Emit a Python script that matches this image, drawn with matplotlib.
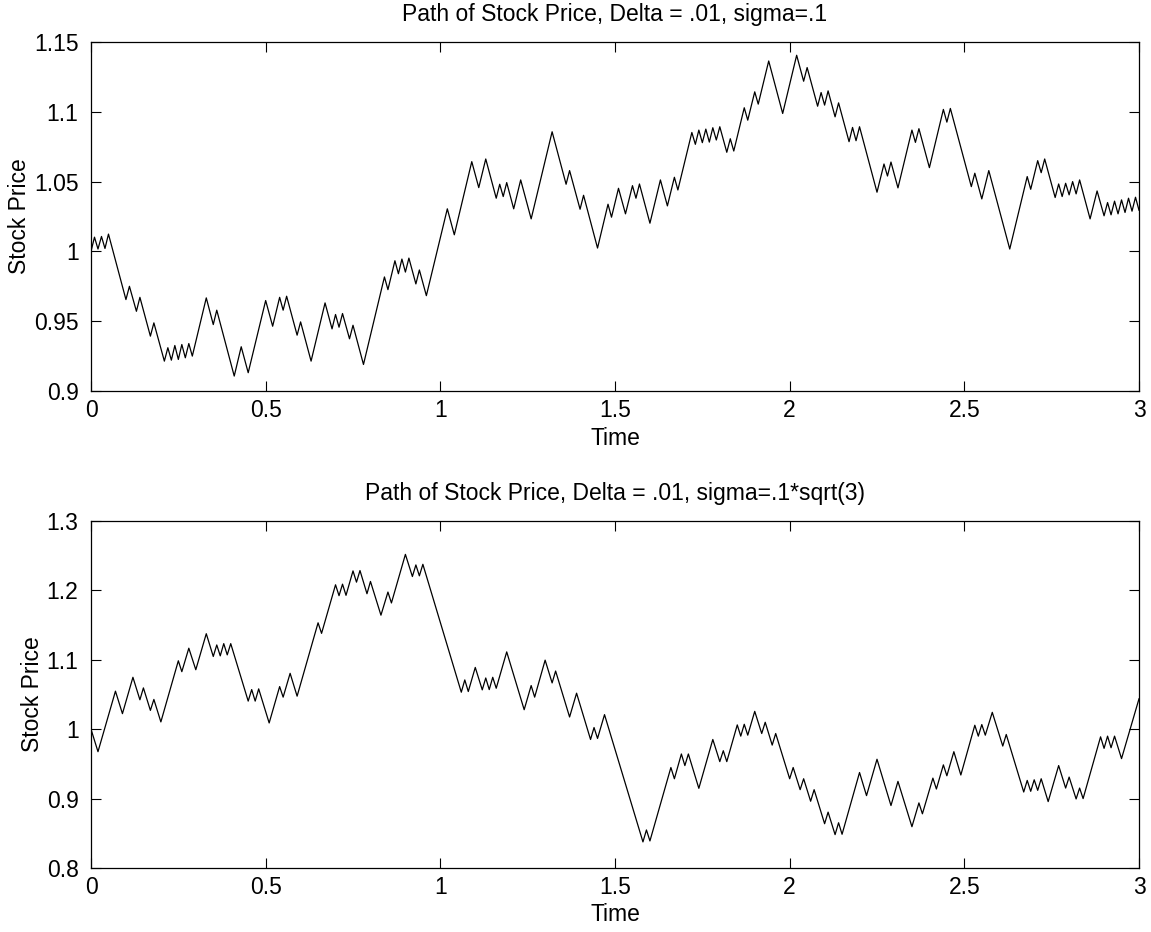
import matplotlib
matplotlib.use("Agg")
import matplotlib.pyplot as plt

plt.rcParams['font.family'] = ['Liberation Sans', 'DejaVu Sans']

# Turning points of the simulated price path, sigma = .1
top_time = [
    0.00, 0.01, 0.02, 0.03, 0.04, 0.05, 0.10, 0.11, 0.13, 0.14,
    0.17, 0.18, 0.21, 0.22, 0.23, 0.24, 0.25, 0.26, 0.27, 0.28,
    0.29, 0.33, 0.35, 0.36, 0.41, 0.43, 0.45, 0.50, 0.52, 0.54,
    0.55, 0.56, 0.59, 0.60, 0.63, 0.67, 0.69, 0.70, 0.71, 0.72,
    0.74, 0.75, 0.78, 0.84, 0.85, 0.87, 0.88, 0.89, 0.90, 0.91,
    0.93, 0.94, 0.96, 1.02, 1.04, 1.09, 1.11, 1.13, 1.16, 1.17,
    1.18, 1.19, 1.21, 1.23, 1.26, 1.32, 1.36, 1.37, 1.40, 1.41,
    1.45, 1.48, 1.49, 1.51, 1.53, 1.55, 1.56, 1.57, 1.60, 1.63,
    1.65, 1.67, 1.68, 1.72, 1.73, 1.74, 1.75, 1.76, 1.77, 1.78,
    1.79, 1.80, 1.82, 1.83, 1.84, 1.87, 1.88, 1.90, 1.91, 1.94,
    1.98, 2.02, 2.04, 2.05, 2.08, 2.09, 2.10, 2.11, 2.13, 2.14,
    2.17, 2.18, 2.19, 2.20, 2.25, 2.27, 2.28, 2.29, 2.31, 2.35,
    2.36, 2.37, 2.40, 2.44, 2.45, 2.46, 2.52, 2.53, 2.55, 2.57,
    2.63, 2.68, 2.69, 2.71, 2.72, 2.73, 2.76, 2.77, 2.78, 2.79,
    2.80, 2.81, 2.82, 2.83, 2.86, 2.88, 2.90, 2.91, 2.92, 2.93,
    2.94, 2.95, 2.96, 2.97, 2.98, 2.99, 3.00,
]
top_price = [
    1.0000, 1.0102, 1.0017, 1.0107, 1.0021, 1.0124, 0.9655, 0.9750, 0.9571, 0.9671,
    0.9393, 0.9488, 0.9214, 0.9310, 0.9221, 0.9326, 0.9226, 0.9333, 0.9238, 0.9340,
    0.9250, 0.9667, 0.9476, 0.9579, 0.9107, 0.9317, 0.9131, 0.9648, 0.9464, 0.9671,
    0.9579, 0.9679, 0.9400, 0.9495, 0.9214, 0.9631, 0.9445, 0.9548, 0.9457, 0.9555,
    0.9374, 0.9471, 0.9190, 0.9817, 0.9726, 0.9933, 0.9840, 0.9945, 0.9852, 0.9952,
    0.9767, 0.9867, 0.9683, 1.0305, 1.0119, 1.0643, 1.0457, 1.0662, 1.0381, 1.0481,
    1.0393, 1.0493, 1.0305, 1.0512, 1.0233, 1.0857, 1.0481, 1.0579, 1.0302, 1.0402,
    1.0024, 1.0338, 1.0245, 1.0452, 1.0269, 1.0471, 1.0381, 1.0483, 1.0202, 1.0512,
    1.0326, 1.0531, 1.0440, 1.0852, 1.0767, 1.0869, 1.0779, 1.0876, 1.0783, 1.0886,
    1.0798, 1.0893, 1.0710, 1.0807, 1.0719, 1.1029, 1.0940, 1.1143, 1.1055, 1.1364,
    1.0988, 1.1405, 1.1219, 1.1317, 1.1040, 1.1138, 1.1048, 1.1150, 1.0964, 1.1064,
    1.0786, 1.0888, 1.0793, 1.0893, 1.0424, 1.0626, 1.0540, 1.0640, 1.0455, 1.0869,
    1.0781, 1.0879, 1.0600, 1.1017, 1.0926, 1.1024, 1.0464, 1.0560, 1.0376, 1.0579,
    1.0017, 1.0536, 1.0445, 1.0650, 1.0564, 1.0662, 1.0386, 1.0483, 1.0393, 1.0488,
    1.0405, 1.0500, 1.0412, 1.0512, 1.0233, 1.0433, 1.0255, 1.0350, 1.0262, 1.0360,
    1.0269, 1.0369, 1.0279, 1.0381, 1.0288, 1.0388, 1.0295,
]

# Turning points of the simulated price path, sigma = .1*sqrt(3)
bot_time = [
    0.00, 0.02, 0.07, 0.09, 0.12, 0.14, 0.15, 0.17, 0.18, 0.20,
    0.25, 0.26, 0.28, 0.30, 0.33, 0.35, 0.36, 0.37, 0.38, 0.39,
    0.40, 0.45, 0.46, 0.47, 0.48, 0.51, 0.54, 0.55, 0.57, 0.59,
    0.65, 0.66, 0.70, 0.71, 0.72, 0.73, 0.75, 0.76, 0.77, 0.79,
    0.80, 0.83, 0.85, 0.86, 0.90, 0.92, 0.93, 0.94, 0.95, 1.06,
    1.07, 1.08, 1.10, 1.12, 1.13, 1.14, 1.15, 1.16, 1.19, 1.24,
    1.26, 1.27, 1.30, 1.32, 1.33, 1.37, 1.39, 1.43, 1.44, 1.45,
    1.47, 1.58, 1.59, 1.60, 1.66, 1.67, 1.69, 1.70, 1.71, 1.74,
    1.78, 1.80, 1.81, 1.82, 1.85, 1.86, 1.87, 1.88, 1.90, 1.92,
    1.93, 1.95, 1.96, 2.00, 2.01, 2.03, 2.04, 2.06, 2.07, 2.10,
    2.11, 2.13, 2.14, 2.15, 2.20, 2.22, 2.25, 2.29, 2.31, 2.35,
    2.37, 2.38, 2.41, 2.42, 2.44, 2.45, 2.47, 2.49, 2.53, 2.54,
    2.55, 2.56, 2.58, 2.61, 2.62, 2.67, 2.68, 2.69, 2.70, 2.71,
    2.72, 2.74, 2.77, 2.79, 2.80, 2.82, 2.83, 2.84, 2.89, 2.90,
    2.91, 2.92, 2.93, 2.95, 3.00,
]
bot_price = [
    1.0000, 0.9676, 1.0548, 1.0224, 1.0748, 1.0424, 1.0595, 1.0271, 1.0429, 1.0105,
    1.0986, 1.0829, 1.1167, 1.0857, 1.1376, 1.1048, 1.1214, 1.1057, 1.1233, 1.1071,
    1.1233, 1.0405, 1.0571, 1.0405, 1.0581, 1.0090, 1.0614, 1.0462, 1.0805, 1.0476,
    1.1533, 1.1381, 1.2081, 1.1924, 1.2090, 1.1929, 1.2281, 1.2119, 1.2286, 1.1952,
    1.2129, 1.1643, 1.1976, 1.1819, 1.2519, 1.2200, 1.2367, 1.2210, 1.2376, 1.0533,
    1.0710, 1.0543, 1.0890, 1.0567, 1.0738, 1.0571, 1.0748, 1.0590, 1.1114, 1.0281,
    1.0629, 1.0462, 1.0995, 1.0667, 1.0838, 1.0176, 1.0519, 0.9852, 1.0024, 0.9867,
    1.0210, 0.8376, 0.8548, 0.8390, 0.9448, 0.9286, 0.9643, 0.9476, 0.9643, 0.9148,
    0.9852, 0.9533, 0.9690, 0.9533, 1.0062, 0.9900, 1.0071, 0.9914, 1.0257, 0.9938,
    1.0100, 0.9771, 0.9938, 0.9286, 0.9448, 0.9129, 0.9286, 0.8962, 0.9129, 0.8638,
    0.8805, 0.8481, 0.8652, 0.8486, 0.9376, 0.9043, 0.9567, 0.8900, 0.9248, 0.8595,
    0.8938, 0.8781, 0.9295, 0.9138, 0.9486, 0.9329, 0.9676, 0.9340, 1.0057, 0.9900,
    1.0067, 0.9914, 1.0243, 0.9757, 0.9924, 0.9095, 0.9262, 0.9105, 0.9271, 0.9119,
    0.9286, 0.8957, 0.9476, 0.9152, 0.9310, 0.8995, 0.9152, 0.9000, 0.9890, 0.9724,
    0.9900, 0.9733, 0.9900, 0.9576, 1.0438,
]

x_ticks = [0, 0.5, 1, 1.5, 2, 2.5, 3]
x_labels = ["0", "0.5", "1", "1.5", "2", "2.5", "3"]
top_yticks = [0.9, 0.95, 1.0, 1.05, 1.1, 1.15]
top_ylabels = ["0.9", "0.95", "1", "1.05", "1.1", "1.15"]
bot_yticks = [0.8, 0.9, 1.0, 1.1, 1.2, 1.3]
bot_ylabels = ["0.8", "0.9", "1", "1.1", "1.2", "1.3"]

top_title = "Path of Stock Price, Delta = .01, sigma=.1"
bot_title = "Path of Stock Price, Delta = .01, sigma=.1*sqrt(3)"

W, H = 1151, 932
fig = plt.figure(figsize=(W / 100, H / 100), dpi=100)

left = 91 / W
width = (1139 - 91) / W
ax_top = fig.add_axes([left, 1 - 391 / H, width, (391 - 42) / H])
ax_bot = fig.add_axes([left, 1 - 868 / H, width, (868 - 521) / H])

FS = 16.5


def style(ax, t, p, yticks, ylabels, title):
    ax.plot(t, p, color="black", linewidth=0.9)
    ax.set_xlim(0, 3)
    ax.set_ylim(yticks[0], yticks[-1])
    ax.set_xticks(x_ticks)
    ax.set_xticklabels(x_labels)
    ax.set_yticks(yticks)
    ax.set_yticklabels(ylabels)
    ax.tick_params(direction="in", length=7, width=0.8, top=True, right=True,
                   labelsize=FS, colors="black")
    ax.tick_params(axis="x", pad=6)
    ax.tick_params(axis="y", pad=9)
    for s in ax.spines.values():
        s.set_linewidth(0.9)
        s.set_color("black")
    ax.set_xlabel("Time", fontsize=FS, labelpad=3)
    ax.set_ylabel("Stock Price", fontsize=FS, labelpad=2)
    ax.set_title(title, fontsize=FS, pad=15)


style(ax_top, top_time, top_price, top_yticks, top_ylabels, top_title)
style(ax_bot, bot_time, bot_price, bot_yticks, bot_ylabels, bot_title)

fig.savefig("out.png", dpi=100, facecolor="white")
